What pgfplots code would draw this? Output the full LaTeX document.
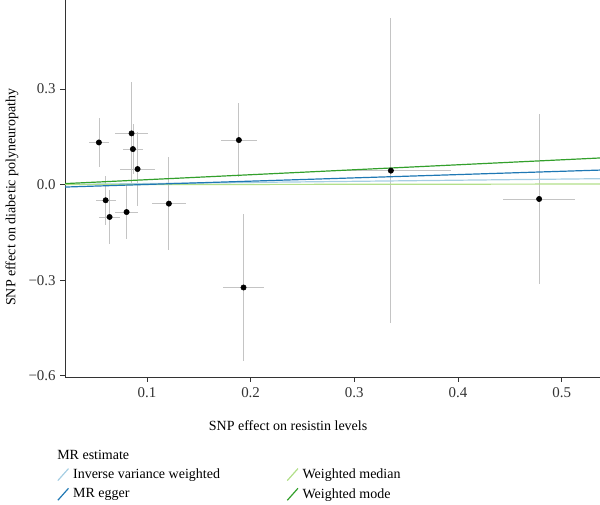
\documentclass[border=0pt]{standalone}
\usepackage{pgfplots}
\pgfplotsset{compat=1.18}
\usepackage{pgfplotstable}
\usepackage{fontspec}
\setmainfont{Liberation Serif}

\definecolor{ivw}{HTML}{A6CEE3}
\definecolor{egger}{HTML}{1F78B4}
\definecolor{wmedian}{HTML}{B2DF8A}
\definecolor{wmode}{HTML}{33A02C}
\definecolor{axisgray}{HTML}{333333}
\definecolor{errgray}{HTML}{C4C4C4}

% SNP effects: exposure (x), outcome (y) and their standard errors
\pgfplotstableread{
x       y        ex      ey
0.0537  0.1326   0.0098  0.077
0.0852  0.1610   0.0155  0.160
0.0865  0.1117   0.0095  0.078
0.0910  0.0490   0.0167  0.117
0.0602  -0.0490  0.0096  0.077
0.0640  -0.1015  0.0105  0.084
0.0804  -0.0860  0.0107  0.085
0.1212  -0.0596  0.0163  0.145
0.1887  0.1400   0.0170  0.117
0.1932  -0.3230  0.0200  0.230
0.3353  0.0440   0.0580  0.480
0.4783  -0.0450  0.0345  0.268
}\snps

\begin{document}
\begin{tikzpicture}
\path[use as bounding box] (0,0) rectangle (450pt,378.75pt);
\begin{axis}[
  at={(48.75pt,96pt)}, anchor=south west,
  scale only axis, width=401.25pt, height=282.75pt,
  xmin=0.021, xmax=0.537, ymin=-0.604, ymax=0.58,
  axis x line*=bottom, axis y line*=left,
  axis line style={axisgray, line width=0.6pt, -},
  xtick={0.1,0.2,0.3,0.4,0.5},
  ytick={-0.6,-0.3,0,0.3},
  yticklabels={−0.6,−0.3,0.0,0.3},
  xticklabels={0.1,0.2,0.3,0.4,0.5},
  /pgf/number format/assume math mode=true,
  tick align=outside, major tick length=3.5pt,
  tick style={axisgray, line width=0.6pt},
  ticklabel style={font=\fontsize{11.2}{13}\selectfont, text=black!80},
  xticklabel style={yshift=-1pt},
  xlabel={SNP effect on resistin levels},
  ylabel={SNP effect on diabetic polyneuropathy},
  label style={font=\fontsize{10.5}{12}\selectfont},
  xlabel style={at={(axis description cs:0.417,-0.13)}, anchor=center},
  ylabel style={at={(axis description cs:-0.099,0.477)}, anchor=center},
  legend columns=2,
  legend cell align=left,
  legend image code/.code={\draw[#1, line width=0.9pt] (0pt,-4.5pt) -- (8pt,4.5pt);},
  legend style={
    at={(axis description cs:-0.015,-0.285)}, anchor=west,
    draw=none, fill=none, inner sep=0pt,
    font=\fontsize{10.5}{12}\selectfont,
    row sep=2pt,
    /tikz/every even column/.append style={column sep=48pt},
    /tikz/every odd column/.append style={column sep=1pt},
  },
]
% standard-error bars
\addplot[draw=none, mark=none, forget plot,
  error bars/.cd, x dir=both, x explicit, y dir=both, y explicit,
  error mark=none, error bar style={errgray, line width=0.6pt}]
  table[x=x, y=y, x error=ex, y error=ey] {\snps};
% SNP estimates
\addplot[only marks, mark=*, mark size=2pt, black, forget plot]
  table[x=x, y=y] {\snps};
% MR regression lines
\addplot[ivw, line width=0.9pt] coordinates {(0.021,0.0007) (0.537,0.0188)};
\addlegendentry{Inverse variance weighted}
\addplot[wmedian, line width=0.9pt] coordinates {(0.021,0.0001) (0.537,0.0020)};
\addlegendentry{Weighted median}
\addplot[egger, line width=0.9pt] coordinates {(0.021,-0.0075) (0.537,0.0458)};
\addlegendentry{MR egger}
\addplot[wmode, line width=0.9pt] coordinates {(0.021,0.0033) (0.537,0.0838)};
\addlegendentry{Weighted mode}
\end{axis}
\node[anchor=west, font=\fontsize{10.5}{12}\selectfont, inner sep=0pt] at (42.75pt,37.5pt) {MR estimate};
\end{tikzpicture}
\end{document}
